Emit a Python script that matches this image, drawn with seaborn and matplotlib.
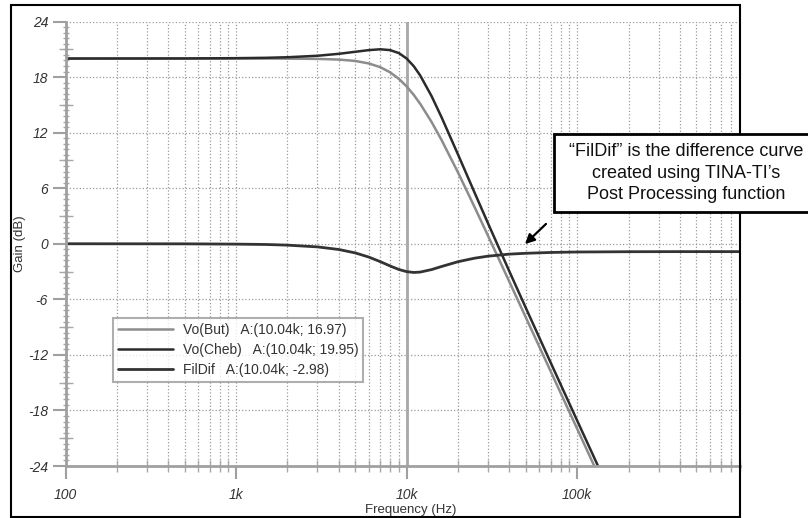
import numpy as np
import pandas as pd
import matplotlib
matplotlib.use("Agg")
import matplotlib.pyplot as plt
import seaborn as sns
from matplotlib.ticker import FixedLocator, FixedFormatter, MultipleLocator, NullFormatter
from matplotlib.patches import Rectangle

# ---- data ----
freq = [100, 500, 1000, 1500, 2000, 3000, 4000, 5000, 6000, 7000, 8000, 9000,
        10000, 11000, 12000, 14000, 16000, 20000, 25000, 30000, 40000, 50000,
        70000, 100000, 130000, 150000]
gain_but = [20.00, 20.00, 20.00, 20.00, 19.99, 19.96, 19.89, 19.74, 19.47, 19.07,
            18.51, 17.81, 16.99, 16.08, 15.12, 13.15, 11.22, 7.70, 3.97, 0.86,
            -4.10, -7.97, -13.81, -20.00, -24.56, -27.04]
gain_cheb = [20.00, 20.01, 20.04, 20.08, 20.14, 20.30, 20.51, 20.73, 20.91, 21.00,
             20.91, 20.59, 20.00, 19.18, 18.18, 15.94, 13.68, 9.64, 5.53, 2.20,
             -2.98, -6.94, -12.87, -19.11, -23.68, -26.18]

freq_dif = [100, 500, 1000, 1500, 2000, 3000, 4000, 5000, 6000, 7000, 8000, 9000,
            10000, 11000, 12000, 14000, 16000, 20000, 25000, 30000, 40000, 50000,
            70000, 100000, 130000, 200000, 400000, 900000]
gain_dif = [0.00, -0.01, -0.04, -0.08, -0.15, -0.34, -0.62, -0.99, -1.44, -1.93,
            -2.40, -2.78, -3.01, -3.10, -3.06, -2.79, -2.46, -1.94, -1.56, -1.34,
            -1.12, -1.03, -0.94, -0.89, -0.88, -0.86, -0.85, -0.85]

cursor_f = 10040
labels = ["Vo(But)   A:(10.04k; 16.97)",
          "Vo(Cheb)   A:(10.04k; 19.95)",
          "FilDif   A:(10.04k; -2.98)"]
xtick_vals = [100, 1000, 10000, 100000]
xtick_text = ["100", "1k", "10k", "100k"]
ytick_vals = [-24, -18, -12, -6, 0, 6, 12, 18, 24]
note = "\u201cFilDif\u201d is the difference curve\ncreated using TINA-TI\u2019s\nPost Processing function"

# ---- style ----
sns.set_style("white")
plt.rcParams['font.family'] = ['Liberation Sans', 'DejaVu Sans']
plt.rcParams['axes.unicode_minus'] = False

W, H = 808, 518
fig = plt.figure(figsize=(W / 100, H / 100), dpi=100)
ax = fig.add_axes([65.5 / W, 1 - 466 / H, (740 - 65.5) / W, (466 - 21.5) / H])

sns.lineplot(x=freq, y=gain_but, ax=ax, color="#8c8c8c", lw=1.8, label=labels[0])
sns.lineplot(x=freq, y=gain_cheb, ax=ax, color="#2b2b2b", lw=1.8, label=labels[1])
sns.lineplot(x=freq_dif, y=gain_dif, ax=ax, color="#333333", lw=2.0, label=labels[2])

ax.axvline(cursor_f, color="#a8a8a8", lw=2, zorder=1)

ax.set_xscale("log")
ax.set_xlim(100, 9.0e5)
ax.set_ylim(-24, 24)

ax.xaxis.set_major_locator(FixedLocator(xtick_vals))
ax.xaxis.set_major_formatter(FixedFormatter(xtick_text))
ax.xaxis.set_minor_locator(matplotlib.ticker.LogLocator(base=10, subs=np.arange(2, 10)))
ax.xaxis.set_minor_formatter(NullFormatter())
ax.yaxis.set_major_locator(FixedLocator(ytick_vals))
ax.yaxis.set_minor_locator(MultipleLocator(0.6))

ax.grid(axis="x", which="both", ls=":", color="#9a9a9a", lw=0.9)
ax.grid(axis="y", which="major", ls=":", color="#9a9a9a", lw=0.9)

for side in ["top", "right"]:
    ax.spines[side].set_visible(False)
for side in ["left", "bottom"]:
    ax.spines[side].set_color("#a0a0a0")
    ax.spines[side].set_linewidth(2)

ax.tick_params(which="both", left=True, bottom=True)
ax.tick_params(which="major", direction="out", length=9.5, width=1.5, color="#a0a0a0",
               labelsize=10, labelcolor="#333333", pad=3)
ax.tick_params(axis="x", which="major", pad=6)
ax.tick_params(which="minor", direction="inout", length=8.5, width=1, color="#a8a8a8")
ax.tick_params(axis="y", which="minor", length=5)
for t in ax.get_xticklabels() + ax.get_yticklabels():
    t.set_style("italic")

# longer mid ticks at every 3 dB
sec = ax.secondary_yaxis("left")
sec.set_yticks([-21, -15, -9, -3, 3, 9, 15, 21])
sec.tick_params(left=True, direction="inout", length=10, width=1, color="#a8a8a8",
                labelleft=False)
sec.spines["left"].set_visible(False)

ax.set_xlabel("Frequency (Hz)", fontsize=9.5, color="#333333")
ax.set_ylabel("Gain (dB)", fontsize=9.5, color="#333333")
ax.xaxis.set_label_coords(0.512, -0.085)
ax.yaxis.set_label_coords(-0.058, 0.5)

leg = ax.legend(loc="lower left", bbox_to_anchor=(0.07, 0.19), borderaxespad=0,
                fontsize=10, handlelength=4, handletextpad=0.7, labelspacing=0.42,
                frameon=True, fancybox=False, borderpad=0.35)
leg.get_frame().set_edgecolor("#9a9a9a")
leg.get_frame().set_linewidth(1.5)
for t in leg.get_texts():
    t.set_color("#333333")

# outer frame of the screenshot
fig.add_artist(Rectangle((11 / W, 1 - 517 / H), (740 - 11) / W, (517 - 5) / H,
                         transform=fig.transFigure, fill=False, ec="black", lw=1.5, zorder=5))

# annotation box
fig.add_artist(Rectangle((554 / W, 1 - 212 / H), (822 - 554) / W, (212 - 134) / H,
                         transform=fig.transFigure, fc="white", ec="black", lw=2, zorder=6))
fig.text(686 / W, 1 - 173 / H, note, ha="center", va="center", fontsize=13,
         linespacing=1.35, color="#111111", zorder=7)
ax.annotate("", xy=(523, H - 246), xycoords="figure pixels",
            xytext=(548, H - 222), textcoords="figure pixels",
            arrowprops=dict(arrowstyle="-|>", color="black", lw=1.6, mutation_scale=14))

plt.savefig("out.png", dpi=100)
plt.close()
